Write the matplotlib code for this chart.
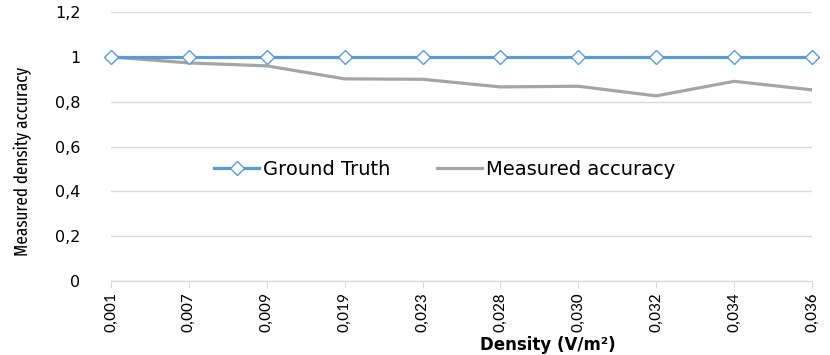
import matplotlib
matplotlib.use('Agg')
import matplotlib.pyplot as plt

# data
densities = ['0,001', '0,007', '0,009', '0,019', '0,023', '0,028', '0,030', '0,032', '0,034', '0,036']
ground_truth = [1, 1, 1, 1, 1, 1, 1, 1, 1, 1]
measured = [1.0, 0.973, 0.96, 0.902, 0.90, 0.866, 0.869, 0.826, 0.891, 0.853]
y_ticks = [0, 0.2, 0.4, 0.6, 0.8, 1.0, 1.2]
y_labels = ['0', '0,2', '0,4', '0,6', '0,8', '1', '1,2']

narrow = ['Fira Sans Extra Condensed', 'DejaVu Sans']
calib = ['Carlito', 'DejaVu Sans']

fig = plt.figure(figsize=(8.3, 3.55), dpi=100)
ax = fig.add_axes([0.1337, 0.2085, 0.9783 - 0.1337, 0.966 - 0.2085])

x = list(range(len(densities)))
ax.plot(x, ground_truth, color='#5B9BD5', lw=2.3, marker='D', ms=7,
        mfc='white', mec='#5B9BD5', mew=1.0, label='Ground Truth', clip_on=False, zorder=4)
ax.plot(x, measured, color='#A5A5A5', lw=2.3, label='Measured accuracy', zorder=3)

ax.set_xlim(0, len(densities) - 1)
ax.set_ylim(0, 1.2)
ax.set_yticks(y_ticks)
ax.set_yticklabels(y_labels, fontsize=11.5)
ax.set_xticks(x)
ax.set_xticklabels(densities, rotation=90, fontsize=12.5, family=calib)

ax.grid(axis='y', color='#D9D9D9', lw=1)
ax.set_axisbelow(True)
for s in ['top', 'right', 'left']:
    ax.spines[s].set_visible(False)
ax.spines['bottom'].set_color('#D9D9D9')
ax.tick_params(axis='y', length=0, pad=22)
ax.tick_params(axis='x', length=5, color='#D9D9D9', pad=3)

ax.set_ylabel('Measured density accuracy', fontsize=13.3, family=narrow)
ax.yaxis.set_label_coords(-0.113, 0.446)
ax.set_xlabel('Density (V/m²)', fontsize=12, fontweight='bold')
ax.xaxis.set_label_coords(0.623, -0.205)

ax.legend(loc='center', bbox_to_anchor=(0.476, 0.416), ncol=2, frameon=False,
          fontsize=14, handlelength=2.3, columnspacing=2.4, handletextpad=0.2)

fig.savefig('out.png', dpi=100)
